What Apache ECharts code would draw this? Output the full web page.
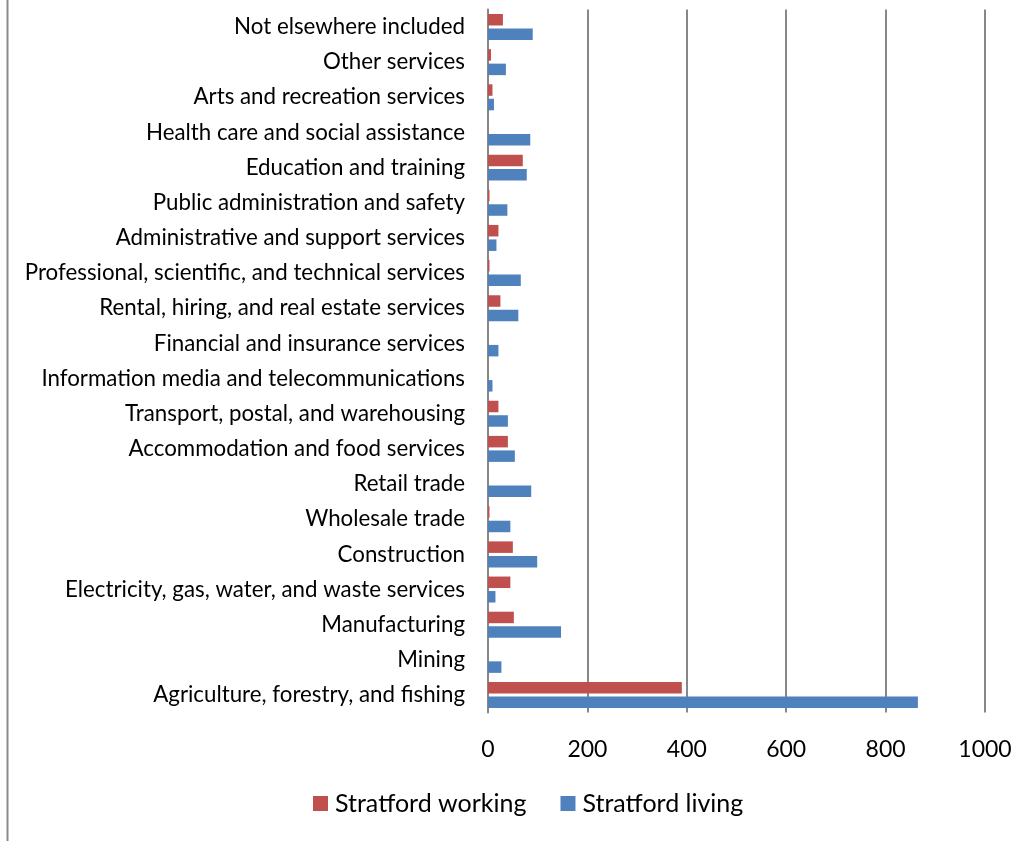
<!DOCTYPE html>
<html>
<head>
<meta charset="utf-8">
<script src="https://cdn.jsdelivr.net/npm/echarts@6/dist/echarts.min.js"></script>
<style>
html,body{margin:0;padding:0;background:#fff;}
#chart{width:1032px;height:841px;}
</style>
</head>
<body>
<div id="chart"></div>
<script>
// Categories from bottom to top
const categories = [
  "Agriculture, forestry, and fishing",
  "Mining",
  "Manufacturing",
  "Electricity, gas, water, and waste services",
  "Construction",
  "Wholesale trade",
  "Retail trade",
  "Accommodation and food services",
  "Transport, postal, and warehousing",
  "Information media and telecommunications",
  "Financial and insurance services",
  "Rental, hiring, and real estate services",
  "Professional, scientific, and technical services",
  "Administrative and support services",
  "Public administration and safety",
  "Education and training",
  "Health care and social assistance",
  "Arts and recreation services",
  "Other services",
  "Not elsewhere included"
];
const stratfordWorking = [390, 0, 52, 45, 50, 3, 0, 40, 21, 0, 0, 25, 3, 21, 3, 70, 0, 9, 6, 30];
const stratfordLiving  = [865, 27, 147, 15, 99, 45, 87, 54, 40, 9, 21, 61, 66, 17, 39, 78, 85, 12, 36, 90];
const xTicks = [0, 200, 400, 600, 800, 1000];

const chart = echarts.init(document.getElementById('chart'), null, {renderer: 'canvas'});
const font = 'Lato, "Open Sans", sans-serif';
chart.setOption({
  animation: false,
  backgroundColor: '#ffffff',
  textStyle: {fontFamily: font},
  grid: {left: 488, right: 47, top: 9.4, bottom: 128.4, containLabel: false},
  legend: {
    data: ['Stratford working', 'Stratford living'],
    left: 308, top: 786,
    itemWidth: 15, itemHeight: 15, itemGap: 34,
    icon: 'rect',
    textStyle: {fontFamily: font, fontSize: 25, color: '#000', padding: [0,0,0,2]}
  },
  xAxis: {
    type: 'value', min: 0, max: 1000, interval: 200,
    axisLine: {show: false},
    axisTick: {show: false},
    splitLine: {show: true, lineStyle: {color: '#878787', width: 2}},
    axisLabel: {fontFamily: font, fontSize: 23, color: '#000', margin: 25,
      formatter: v => xTicks.includes(v) ? String(v) : ''}
  },
  yAxis: {
    type: 'category', data: categories,
    axisLine: {show: true, lineStyle: {color: '#878787', width: 2}},
    axisTick: {show: false},
    axisLabel: {fontFamily: font, fontSize: 22.3, color: '#000', margin: 23, padding: [2,0,0,0]}
  },
  series: [
    {name: 'Stratford working', type: 'bar', data: stratfordWorking,
     itemStyle: {color: '#C0504D'}, barWidth: 11.5, barGap: '26%'},
    {name: 'Stratford living', type: 'bar', data: stratfordLiving,
     itemStyle: {color: '#4F81BD'}, barWidth: 11.5, barGap: '26%'}
  ],
  graphic: [{
    type: 'line', shape: {x1: 7.5, y1: 0, x2: 7.5, y2: 841},
    style: {stroke: '#8a8a8a', lineWidth: 2}
  }]
});
</script>
</body>
</html>
